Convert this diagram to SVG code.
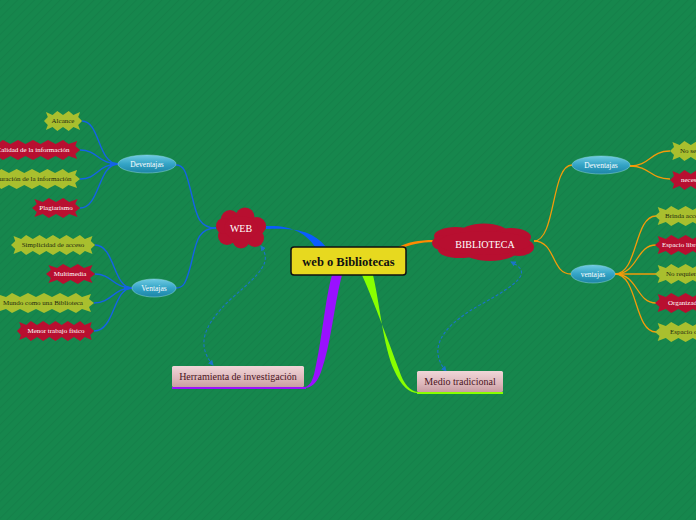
<svg xmlns="http://www.w3.org/2000/svg" xmlns:xlink="http://www.w3.org/1999/xlink" width="696" height="520" viewBox="0 0 696 520">
<style>
.t{font-family:"Liberation Serif","Times New Roman",serif;text-anchor:middle;dominant-baseline:central}
.lf{font-size:7px}
.dk{fill:#1e2a10}
.wt{fill:#ffffff}
.ell{font-size:7.5px;fill:#ffffff}
.blue{fill:none;stroke:#1463e6;stroke-width:1.4}
.orng{fill:none;stroke:#f49b0a;stroke-width:1.3}
.dash{fill:none;stroke:#1a74c8;stroke-width:1.1;stroke-dasharray:3 2}
.grn{fill:#a9bf2e}
.red{fill:#b80f30}
</style>
<defs>
<pattern id="stripes" patternUnits="userSpaceOnUse" width="6" height="6" patternTransform="rotate(-45)">
<rect width="6" height="6" fill="#16874d"/>
<rect width="6" height="1.2" fill="#15814a"/>
</pattern>
<linearGradient id="teal" x1="0" y1="0" x2="0" y2="1">
<stop offset="0" stop-color="#6fcbe3"/>
<stop offset="0.5" stop-color="#34a4c6"/>
<stop offset="1" stop-color="#1c84a6"/>
</linearGradient>
<linearGradient id="pink" x1="0" y1="0" x2="0" y2="1">
<stop offset="0" stop-color="#f0d6d8"/>
<stop offset="0.6" stop-color="#ddb7bb"/>
<stop offset="1" stop-color="#c89ca2"/>
</linearGradient>
<symbol id="burst" viewBox="0 0 100 20" preserveAspectRatio="none">
<polygon points="0,10 5,6 3,1 12,4 18,0 26,4 34,0 42,4 50,0 58,4 66,0 74,4 82,0 88,4 97,1 95,6 100,10 95,14 97,19 88,16 82,20 74,16 66,20 58,16 50,20 42,16 34,20 26,16 18,20 12,16 3,19 5,14"/>
</symbol>
<symbol id="burstS" viewBox="0 0 40 20" preserveAspectRatio="none">
<polygon points="0,10 4,6 2,1 9,4 14,0 20,4 26,0 31,4 38,1 36,6 40,10 36,14 38,19 31,16 26,20 20,16 14,20 9,16 2,19 4,14"/>
</symbol>
<marker id="arr" viewBox="0 0 6 6" refX="5" refY="3" markerWidth="5" markerHeight="5" orient="auto-start-reverse">
<path d="M0,0 L6,3 L0,6 Z" fill="#1a74c8"/>
</marker>
</defs>
<rect width="696" height="520" fill="url(#stripes)"/>

<g id="connectors">
<path d="M266,226 C292,225 306,233 316,248 L327,248 C312,229 292,228 266,229 Z" fill="#0a5cff"/>
<path d="M396,248 C408,242 418,240 434,240 L434,242 C420,242 410,245 399,249 Z" fill="#ff8a00"/>
<path d="M332,275 L342,275 C334,305 331,345 321,372 C317,383 311,388 305,388 L305,387 C310,386 313,380 315,370 C322,340 325,300 332,275 Z" fill="#9a10ff"/>
<path d="M172,388 L306,388" stroke="#9a10ff" stroke-width="2" fill="none"/>
<path d="M362,275 L373,275 C380,305 383,345 394,370 C401,386 409,393 418,393 L418,392 C410,391 404,385 399,370 C388,340 374,302 362,275 Z" fill="#88ff00"/>
<path d="M417,393 L503,393" stroke="#88ff00" stroke-width="2" fill="none"/>
<path class="blue" d="M216,228 C196,228 196,210 190,188 C186,172 184,165 176,165"/>
<path class="blue" d="M216,228 C196,228 196,246 190,268 C186,282 184,288 176,288"/>
<path class="blue" d="M118,164 C98,164 100,121 82,121"/>
<path class="blue" d="M118,164 C98,164 98,150 80,150"/>
<path class="blue" d="M118,164 C98,164 98,179 80,179"/>
<path class="blue" d="M118,164 C98,164 100,208 80,208"/>
<path d="M110,162 L118,163 L118,165 L110,166 Z" fill="#1463e6"/>
<path class="blue" d="M132,288 C113,288 115,245 95,245"/>
<path class="blue" d="M132,288 C113,288 112,274 95,274"/>
<path class="blue" d="M132,288 C113,288 112,303 94,303"/>
<path class="blue" d="M132,288 C113,288 115,331 94,331"/>
<path d="M124,286 L132,287 L132,289 L124,290 Z" fill="#1463e6"/>
<path class="orng" d="M534,241 C556,241 551,165 572,165"/>
<path class="orng" d="M534,241 C556,241 551,274 571,274"/>
<path class="orng" d="M630,166 C650,166 650,151 670,151"/>
<path class="orng" d="M630,166 C650,166 650,179 670,179"/>
<path d="M630,165 L638,166 L630,167 Z" fill="#f49b0a"/>
<path class="orng" d="M615,274 C638,274 634,216 656,216"/>
<path class="orng" d="M615,274 C638,274 636,245 656,245"/>
<path class="orng" d="M615,274 L656,274"/>
<path class="orng" d="M615,274 C638,274 636,303 656,303"/>
<path class="orng" d="M615,274 C638,274 634,332 656,332"/>
<path d="M615,273 L625,274 L615,275 Z" fill="#f49b0a"/>
<path class="dash" d="M213,365 C196,345 203,325 232,298 C262,272 272,262 261,246" marker-start="url(#arr)" marker-end="url(#arr)"/>
<path class="dash" d="M446,371 C430,352 436,330 478,306 C522,282 532,272 511,262" marker-start="url(#arr)" marker-end="url(#arr)"/>
</g>

<g id="central">
<rect x="291" y="247" width="115" height="28" rx="3" fill="#e7d91f" stroke="#111" stroke-width="1.5"/>
<text class="t" x="348.5" y="261.5" font-size="12.5" font-weight="bold" fill="#111">web o Bibliotecas</text>
</g>

<g id="web">
<g fill="#b80f30">
<circle cx="230" cy="219" r="9"/><circle cx="245" cy="217" r="9.5"/><circle cx="257" cy="226" r="9"/>
<circle cx="255" cy="238" r="9"/><circle cx="241" cy="240" r="8.5"/><circle cx="227" cy="236" r="9"/><circle cx="224" cy="226" r="8"/>
<ellipse cx="241" cy="228" rx="17" ry="12"/>
</g>
<text class="t wt" x="241" y="228.5" font-size="10">WEB</text>
</g>

<g id="biblioteca">
<g fill="#b80f30">
<ellipse cx="456" cy="236" rx="22" ry="9"/><ellipse cx="484" cy="233" rx="24" ry="9.5"/><ellipse cx="511" cy="237" rx="20" ry="9"/>
<ellipse cx="519" cy="247" rx="15" ry="9"/><ellipse cx="490" cy="252" rx="26" ry="9"/><ellipse cx="460" cy="250" rx="22" ry="8"/>
<ellipse cx="446" cy="243" rx="14" ry="8"/><ellipse cx="484" cy="243" rx="46" ry="12"/>
</g>
<text class="t wt" x="485" y="244" font-size="10">BIBLIOTECA</text>
</g>

<g id="herramienta">
<rect x="172" y="366" width="132" height="21" rx="1.5" fill="url(#pink)"/>
<text class="t" x="238" y="376.5" font-size="10" fill="#4a1422">Herramienta de investigación</text>
</g>

<g id="medio">
<rect x="417" y="371" width="86" height="21" rx="1.5" fill="url(#pink)"/>
<text class="t" x="460" y="381.5" font-size="10" fill="#4a1422">Medio tradicional</text>
</g>

<g id="deventajas-web">
<ellipse cx="147" cy="164" rx="29" ry="9" fill="url(#teal)" stroke="#8fd6ea" stroke-width="0.5"/>
<text class="t ell" x="147" y="164.5">Deventajas</text>
</g>
<g id="ventajas-web">
<ellipse cx="154" cy="288" rx="22" ry="9" fill="url(#teal)" stroke="#8fd6ea" stroke-width="0.5"/>
<text class="t ell" x="154" y="288.5">Ventajas</text>
</g>
<g id="deventajas-bib">
<ellipse cx="601" cy="165" rx="29" ry="9" fill="url(#teal)" stroke="#8fd6ea" stroke-width="0.5"/>
<text class="t ell" x="601" y="165.5">Deventajas</text>
</g>
<g id="ventajas-bib">
<ellipse cx="593" cy="274" rx="22" ry="9" fill="url(#teal)" stroke="#8fd6ea" stroke-width="0.5"/>
<text class="t ell" x="593" y="274.5">ventajas</text>
</g>

<g id="alcance"><use href="#burstS" x="44" y="111" width="38" height="20" class="grn"/><text class="t lf dk" x="63" y="121">Alcance</text></g>
<g id="calidad"><use href="#burst" x="-14" y="140" width="94" height="20" class="red"/><text class="t lf wt" x="33" y="150">Calidad de la información</text></g>
<g id="saturacion"><use href="#burst" x="-16" y="169" width="96" height="20" class="grn"/><text class="t lf dk" x="31" y="179">Saturación de la información</text></g>
<g id="plagiarismo"><use href="#burstS" x="32" y="198" width="48" height="20" class="red"/><text class="t lf wt" x="56" y="208">Plagiarismo</text></g>
<g id="simplicidad"><use href="#burst" x="11" y="235" width="84" height="20" class="grn"/><text class="t lf dk" x="53" y="245">Simplicidad de acceso</text></g>
<g id="multimedia"><use href="#burstS" x="46" y="264" width="49" height="20" class="red"/><text class="t lf wt" x="70" y="274">Multimedia</text></g>
<g id="mundo"><use href="#burst" x="-6" y="293" width="100" height="20" class="grn"/><text class="t lf dk" x="43" y="303">Mundo como una Biblioteca</text></g>
<g id="menor"><use href="#burst" x="17" y="321" width="77" height="20" class="red"/><text class="t lf wt" x="56" y="331">Menor trabajo físico</text></g>

<g id="nose"><use href="#burst" x="670" y="141" width="80" height="20" class="grn"/><text class="t lf dk" x="680" y="151" style="text-anchor:start">No se actualiza</text></g>
<g id="necesita"><use href="#burst" x="670" y="170" width="80" height="20" class="red"/><text class="t lf wt" x="681" y="180" style="text-anchor:start">necesita desplazarse</text></g>
<g id="brinda"><use href="#burst" x="655" y="206" width="90" height="20" class="grn"/><text class="t lf dk" x="665" y="216" style="text-anchor:start">Brinda acceso</text></g>
<g id="espacio-libre"><use href="#burst" x="655" y="235" width="90" height="20" class="red"/><text class="t lf wt" x="662" y="245" style="text-anchor:start">Espacio libre</text></g>
<g id="norequiere"><use href="#burst" x="655" y="264" width="90" height="20" class="grn"/><text class="t lf dk" x="666" y="274" style="text-anchor:start">No requiere</text></g>
<g id="organizado"><use href="#burst" x="655" y="293" width="90" height="20" class="red"/><text class="t lf wt" x="668" y="303" style="text-anchor:start">Organizado</text></g>
<g id="espacio-de"><use href="#burst" x="655" y="322" width="90" height="20" class="grn"/><text class="t lf dk" x="670" y="332" style="text-anchor:start">Espacio de</text></g>
</svg>
